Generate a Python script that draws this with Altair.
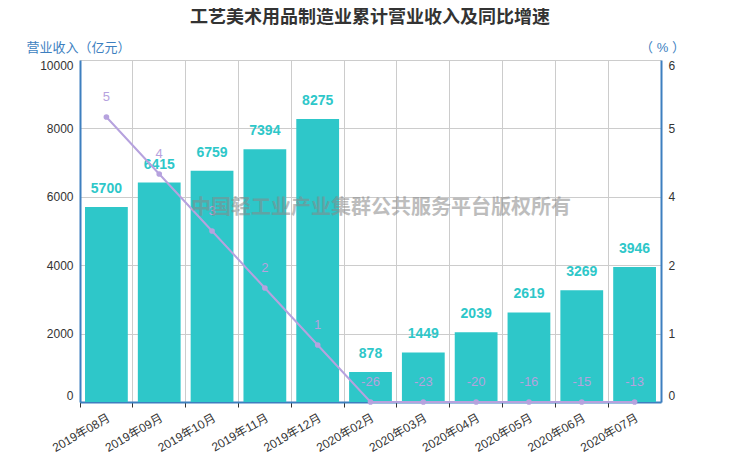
import altair as alt
import pandas as pd

months = ["2019年08月", "2019年09月", "2019年10月", "2019年11月", "2019年12月",
          "2020年02月", "2020年03月", "2020年04月", "2020年05月", "2020年06月", "2020年07月"]
revenue = [5700, 6415, 6759, 7394, 8275, 878, 1449, 2039, 2619, 3269, 3946]
growth = [5, 4, 3, 2, 1, -26, -23, -20, -16, -15, -13]
left_ticks = [0, 2000, 4000, 6000, 8000, 10000]
right_ticks = [0, 1.2, 2.4, 3.6, 4.8, 6]
title_text = ["工艺美术用品制造业累计营业收入及同比增速"]
watermark = ["中国轻工业产业集群公共服务平台版权所有"]

df = pd.DataFrame({"month": months, "revenue": revenue, "growth": growth,
                   "glabel": [str(g) for g in growth]})

BLUE = "#3d7fbf"
TEAL = "#2ec7c9"
PURPLE = "#b6a2de"
FONT = "Liberation Sans, Noto Sans CJK SC, sans-serif"

xscale = alt.Scale(paddingInner=0, paddingOuter=0)
x_main = alt.X("month:N", sort=months, title=None, scale=xscale,
               axis=alt.Axis(bandPosition=0, grid=True, gridColor="#cccccc",
                             domainColor=BLUE, domainWidth=2,
                             tickColor="#333333", tickSize=5,
                             labelAngle=-30, labelAlign="right", labelBaseline="top",
                             labelPadding=5, labelColor="#333333", labelFontSize=12))

y_left = alt.Y("revenue:Q", scale=alt.Scale(domain=[0, 10000], nice=False),
               axis=alt.Axis(values=left_ticks, format="d", title="营业收入（亿元）", titleAngle=0,
                             titleAlign="center", titleBaseline="middle", titleX=-2, titleY=-13,
                             titleColor=BLUE, titleFontSize=13, titleFontWeight="normal",
                             domainColor=BLUE, domainWidth=2, ticks=False, labelPadding=7,
                             labelFlush=True, labelColor="#333333", labelFontSize=12,
                             grid=True, gridColor="#cccccc"))

y_right = alt.Y("growth:Q", scale=alt.Scale(domain=[0, 6], clamp=True, nice=False),
                axis=alt.Axis(orient="right", values=right_ticks, format=".0f", title="（ % ）",
                              titleAngle=0, titleAlign="center", titleBaseline="middle",
                              titleX=1, titleY=-13, titleColor=BLUE, titleFontSize=13,
                              titleFontWeight="normal", domainColor=BLUE, domainWidth=2,
                              ticks=False, labelPadding=7, labelFlush=True,
                              labelColor="#333333", labelFontSize=12, grid=False))

base = alt.Chart(df)

bars = base.mark_bar(color=TEAL, width=alt.RelativeBandSize(0.81)).encode(x=x_main, y=y_left)
bar_text = base.mark_text(color=TEAL, fontSize=14, fontWeight="bold", baseline="middle", dy=-18).encode(
    x=x_main, y=y_left, text=alt.Text("revenue:Q", format="d"))
left = alt.layer(bars, bar_text)

line = base.mark_line(color=PURPLE, strokeWidth=2).encode(x=x_main, y=y_right)
pts = base.mark_circle(color=PURPLE, size=32, opacity=1).encode(x=x_main, y=y_right)
ltxt = base.mark_text(color=PURPLE, fontSize=13, baseline="middle", dy=-20).encode(
    x=x_main, y=y_right, text="glabel:N")
right = alt.layer(line, pts, ltxt)

wm = alt.Chart(pd.DataFrame({"t": watermark})).mark_text(
    fontSize=20, fontWeight="bold", color="#888888", opacity=0.55, align="center", baseline="middle"
).encode(x=alt.value(301), y=alt.value(148), text="t:N")

ttl = alt.Chart(pd.DataFrame({"t": title_text})).mark_text(
    fontSize=18, fontWeight="bold", color="#333333", align="center", baseline="middle"
).encode(x=alt.value(290), y=alt.value(-42), text="t:N")

chart = alt.layer(left, right, wm, ttl).resolve_scale(y="independent").properties(
    width=581, height=342,
    padding={"left": 72, "top": 52, "right": 71, "bottom": 56},
    autosize=alt.AutoSizeParams(type="none"),
).configure(font=FONT).configure_view(stroke=None)

chart.save("out.html", embed_options={"renderer": "svg", "actions": False})
